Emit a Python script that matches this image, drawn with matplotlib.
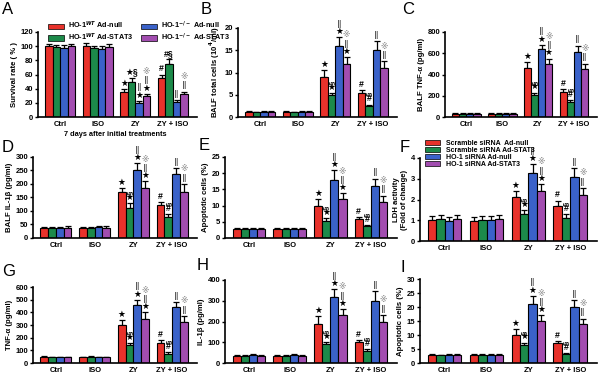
import matplotlib

matplotlib.use("Agg")
import matplotlib.pyplot as plt
import numpy as np

plt.rcParams["font.family"] = ["Liberation Sans", "DejaVu Sans", "Noto Sans CJK SC"]
plt.rcParams["font.weight"] = "bold"

groups = ["Ctrl", "ISO", "ZY", "ZY + ISO"]
colors = ["#e8322b", "#1c8a4a", "#3a62c9", "#a24db0"]

legend_a = ["HO-1$^{WT}$ Ad-null", "HO-1$^{WT}$ Ad-STAT3",
            "HO-1$^{-/-}$ Ad-null", "HO-1$^{-/-}$ Ad-STAT3"]
legend_f = ["Scramble siRNA  Ad-null", "Scramble siRNA Ad-STAT3",
            "HO-1 siRNA Ad-null", "HO-1 siRNA Ad-STAT3"]

# values per group (Ctrl, ISO, ZY, ZY+ISO) x series (4)
surv = [[100, 99, 98, 100], [100, 97, 96, 99], [36, 50, 20, 30], [55, 75, 21, 32]]
surv_err = [[3, 3, 3, 3], [4, 3, 4, 4], [4, 5, 3, 3], [5, 7, 3, 4]]

balf_cells = [[1.2, 1.1, 1.2, 1.2], [1.2, 1.1, 1.2, 1.2], [9, 5, 16, 12], [5.5, 2.5, 15, 11]]
balf_cells_err = [[0.1, 0.1, 0.1, 0.1], [0.1, 0.1, 0.1, 0.1], [1.5, 0.4, 2, 1.5], [0.6, 0.3, 2, 1.5]]

balf_tnf = [[30, 30, 30, 30], [30, 30, 30, 32], [460, 210, 640, 500], [240, 140, 610, 450]]
balf_tnf_err = [[5, 5, 5, 5], [5, 5, 5, 5], [60, 20, 40, 50], [20, 20, 60, 50]]

balf_il1 = [[37, 36, 38, 38], [37, 37, 39, 38], [170, 110, 250, 185], [122, 78, 238, 170]]
balf_il1_err = [[4, 4, 4, 5], [4, 4, 4, 5], [15, 20, 28, 25], [12, 10, 20, 30]]

apop_e = [[2.8, 2.7, 2.9, 2.9], [2.7, 2.7, 2.8, 2.8], [10, 5.3, 18, 12], [6, 3.6, 16, 11]]
apop_e_err = [[0.3, 0.3, 0.3, 0.3], [0.3, 0.3, 0.3, 0.3], [2, 1, 3, 1.8], [0.6, 0.5, 2.3, 2]]

ldh = [[1.0, 1.05, 0.98, 1.05], [0.98, 1.0, 1.0, 1.05], [2.1, 1.3, 3.3, 2.4], [1.7, 1.1, 3.1, 2.2]]
ldh_err = [[0.2, 0.2, 0.2, 0.2], [0.18, 0.2, 0.2, 0.22], [0.3, 0.2, 0.4, 0.35], [0.25, 0.2, 0.4, 0.35]]

tnf = [[48, 46, 46, 46], [46, 48, 46, 46], [300, 140, 460, 350], [160, 75, 440, 320]]
tnf_err = [[5, 5, 5, 5], [5, 5, 5, 5], [40, 15, 40, 50], [20, 10, 40, 50]]

il1 = [[35, 33, 37, 35], [35, 35, 37, 35], [190, 90, 320, 230], [100, 58, 300, 200]]
il1_err = [[5, 5, 6, 5], [5, 5, 6, 5], [35, 10, 35, 30], [10, 8, 45, 30]]

apop_i = [[2.8, 2.7, 2.9, 2.9], [2.8, 2.8, 3.0, 3.0], [10, 6.5, 21, 15], [7, 3.2, 20, 14]]
apop_i_err = [[0.3, 0.3, 0.3, 0.3], [0.3, 0.3, 0.3, 0.3], [2, 0.8, 3, 2], [0.8, 0.4, 2.5, 1.8]]

# significance marks, bottom to top, for ZY and ZY+ISO groups
marks_a = {2: [["★"], ["★§"], ["★", "‖"], ["★", "‖", "※"]],
           3: [["#"], ["#§"], ["‖"], ["‖", "※"]]}
marks = {2: [["★"], ["★", "§r"], ["★", "‖"], ["★", "‖", "※"]],
         3: [["#"], ["#", "§r"], ["‖"], ["‖", "※"]]}


def panel(rect, letter, letter_xy, vals, errs, ylim, ticks, ylabel, mk):
    ax = fig.add_axes(rect)
    vals = np.array(vals)
    errs = np.array(errs)
    x = np.arange(len(groups))
    w = 0.2
    for i in range(4):
        xs = x + (i - 1.5) * w
        ax.bar(xs, vals[:, i], w, color=colors[i], edgecolor="black", linewidth=0.8, zorder=2)
        ax.errorbar(xs, vals[:, i], yerr=[np.zeros(4), errs[:, i]], fmt="none",
                    ecolor="black", elinewidth=0.9, capsize=2, capthick=0.9, zorder=1)
        for g, lst in mk.items():
            top = vals[g, i] + errs[g, i]
            off = 0.8
            for tok in lst[i]:
                col = "#999999" if tok == "※" else "black"
                if tok == "§r":
                    ax.annotate("§", (xs[g], top), xytext=(0.5, off), textcoords="offset points",
                                ha="center", va="bottom", fontsize=5.5, rotation=90, color=col)
                    off += 4.5
                elif tok == "‖":
                    ax.annotate("‖", (xs[g], top), xytext=(0, off - 0.5), textcoords="offset points",
                                ha="center", va="bottom", fontsize=8, fontweight="normal",
                                color="#444444")
                    off += 7
                else:
                    fs = 5.5 if tok == "※" else 6.3
                    ax.annotate(tok, (xs[g], top), xytext=(0, off), textcoords="offset points",
                                ha="center", va="bottom", fontsize=fs, color=col)
                    off += 5
    ax.set_xlim(-0.59, 3.64)
    ax.set_ylim(ylim)
    ax.set_yticks(ticks)
    ax.set_xticks(x)
    ax.set_xticklabels(groups, fontsize=5.5, fontweight="bold")
    ax.tick_params(axis="x", length=0, pad=3)
    ax.tick_params(axis="y", labelsize=5.5, length=2.5, width=1, pad=1)
    for t in ax.get_yticklabels():
        t.set_fontweight("bold")
    for s in ["top", "right"]:
        ax.spines[s].set_visible(False)
    for s in ["left", "bottom"]:
        ax.spines[s].set_linewidth(1.2)
    ax.set_ylabel(ylabel, fontsize=5.6, fontweight="bold", labelpad=2)
    fig.text(letter_xy[0] / 600, 1 - letter_xy[1] / 380, letter, fontsize=12,
             fontweight="normal", va="center", ha="left")
    return ax


def rect(l, r, t, b):
    return [l / 600, 1 - b / 380, (r - l) / 600, (b - t) / 380]


fig = plt.figure(figsize=(6, 3.8), dpi=100)

ax_a = panel(rect(38, 197, 32, 117), "A", (2, 10), surv, surv_err, (0, 120),
             range(0, 121, 20), "Survival rate ( % )", marks_a)
handles = [plt.Rectangle((0, 0), 1, 1, fc=c, ec="black", lw=0.5) for c in colors]
ax_a.legend(handles, legend_a, ncol=2, loc="upper left", bbox_to_anchor=(0.03, 1.2),
            fontsize=5.2, frameon=False, handlelength=2.2, handleheight=0.8,
            columnspacing=1.0, labelspacing=0.05, handletextpad=0.6, borderpad=0.2)
fig.text(115 / 600, 1 - 135 / 380, "7 days after initial treatments", fontsize=5.3,
         fontweight="bold", ha="center", va="center")

panel(rect(238, 397, 28, 117), "B", (201, 10), balf_cells, balf_cells_err, (0, 20),
      range(0, 21, 5), "BALF total cells (10$^4$/ml)", marks)
panel(rect(445, 597, 32, 117), "C", (402, 10), balf_tnf, balf_tnf_err, (0, 800),
      range(0, 801, 200), "BALF TNF-α (pg/ml)", marks)
panel(rect(33, 197, 157, 238), "D", (2, 148), balf_il1, balf_il1_err, (0, 300),
      range(0, 301, 50), "BALF IL-1β (pg/ml)", marks)
panel(rect(225, 397, 157, 238), "E", (199, 146), apop_e, apop_e_err, (0, 25),
      range(0, 26, 5), "Apoptotic cells (%)", marks)
ax_f = panel(rect(420, 597, 158, 241), "F", (400, 148), ldh, ldh_err, (0, 4),
             range(0, 5), "LDH activity\n(Fold of change)", marks)
ax_f.legend(handles, legend_f, ncol=1, loc="upper left", bbox_to_anchor=(0.0, 1.28),
            fontsize=5, frameon=False, handlelength=2.2, handleheight=0.7,
            labelspacing=0.02, handletextpad=0.8, borderpad=0.2)
panel(rect(33, 197, 287, 363), "G", (2, 272), tnf, tnf_err, (0, 600),
      range(0, 601, 100), "TNF-α (pg/ml)", marks)
panel(rect(225, 397, 280, 363), "H", (197, 266), il1, il1_err, (0, 400),
      range(0, 401, 100), "IL-1β (pg/ml)", marks)
panel(rect(420, 597, 279, 363), "I", (400, 268), apop_i, apop_i_err, (0, 30),
      range(0, 31, 5), "Apoptotic cells (%)", marks)

fig.savefig("out.png", dpi=100)
plt.close(fig)
